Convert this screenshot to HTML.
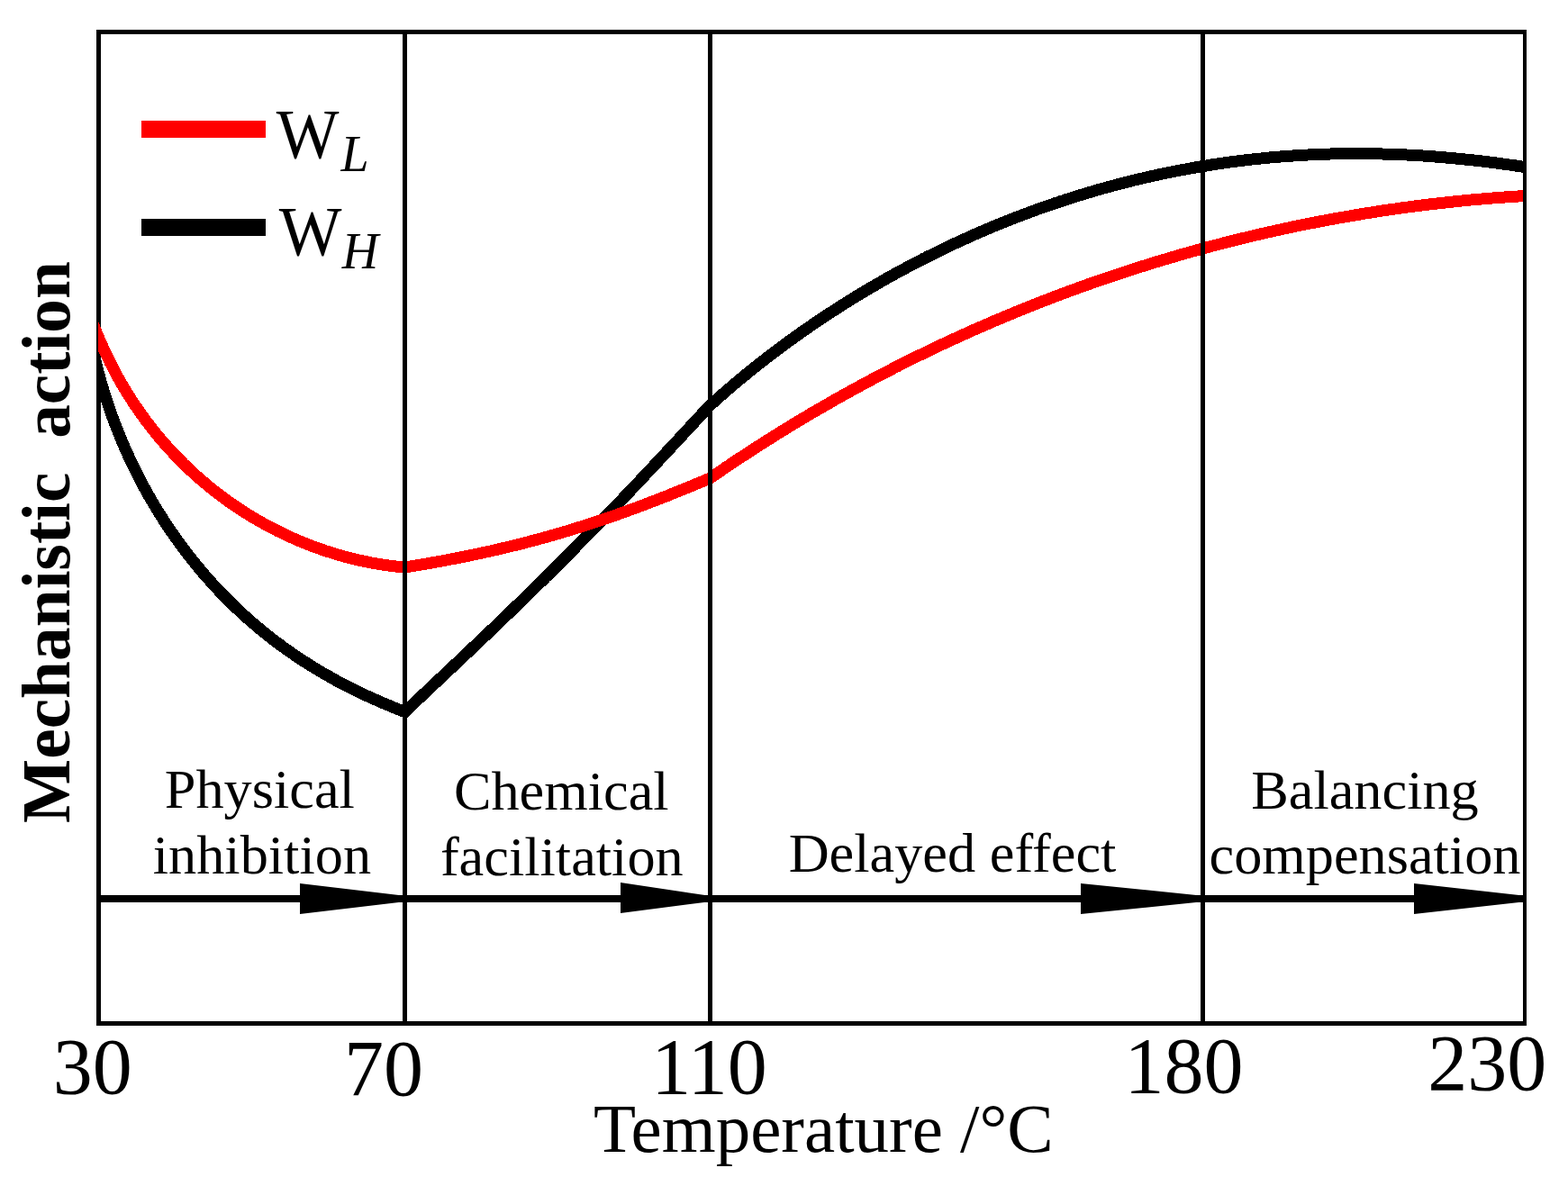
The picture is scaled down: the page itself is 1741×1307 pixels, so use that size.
<!DOCTYPE html>
<html><head><meta charset="utf-8"><title>Mechanistic action vs Temperature</title>
<style>
html,body{margin:0;padding:0;background:#fff;}
body{width:1741px;height:1307px;overflow:hidden;}
svg{display:block;}
text{font-family:"Liberation Serif","Times New Roman",serif;fill:#000;}
</style></head><body>
<svg width="1741" height="1307" viewBox="0 0 1741 1307">
<rect x="0" y="0" width="1741" height="1307" fill="#fff"/>
<defs><clipPath id="plot"><rect x="109" y="38" width="1584" height="1096"/></clipPath></defs>
<!-- left border (under curves) -->
<rect x="107" y="33" width="5" height="1106" fill="#000"/>
<g clip-path="url(#plot)" shape-rendering="crispEdges" fill="none" stroke-linejoin="miter" stroke-miterlimit="4" stroke-linecap="butt">
<path d="M102.6,388.3 L109.0,412.5 L109.8,415.4 L110.6,418.3 L111.4,421.2 L112.2,424.1 L113.0,427.0 L113.9,429.9 L114.8,432.8 L115.6,435.7 L116.5,438.5 L117.4,441.4 L118.4,444.3 L119.3,447.1 L120.3,450.0 L121.2,452.8 L122.2,455.6 L123.2,458.5 L124.2,461.3 L125.3,464.1 L126.3,467.0 L127.4,469.8 L128.4,472.6 L129.5,475.4 L130.6,478.2 L131.7,481.0 L132.9,483.7 L134.0,486.5 L135.2,489.3 L136.3,492.1 L137.5,494.8 L138.7,497.6 L139.9,500.3 L141.2,503.1 L142.4,505.8 L143.7,508.5 L144.9,511.2 L146.2,514.0 L147.5,516.7 L148.8,519.4 L150.2,522.1 L151.5,524.8 L152.9,527.4 L154.2,530.1 L155.6,532.8 L157.0,535.4 L158.4,538.1 L159.9,540.8 L161.3,543.4 L162.8,546.0 L164.2,548.6 L165.7,551.3 L167.2,553.9 L168.7,556.5 L170.3,559.1 L171.8,561.7 L173.4,564.2 L174.9,566.8 L176.5,569.4 L178.1,571.9 L179.7,574.5 L181.3,577.0 L183.0,579.5 L184.6,582.1 L186.3,584.6 L188.0,587.1 L189.7,589.6 L191.4,592.0 L193.1,594.5 L194.8,597.0 L196.6,599.4 L198.3,601.9 L200.1,604.3 L201.9,606.7 L203.7,609.2 L205.5,611.6 L207.3,614.0 L209.2,616.3 L211.0,618.7 L212.9,621.1 L214.8,623.4 L216.7,625.8 L218.6,628.1 L220.5,630.4 L222.4,632.7 L224.4,635.0 L226.3,637.3 L228.3,639.6 L230.3,641.9 L232.3,644.1 L234.3,646.4 L236.3,648.6 L238.3,650.8 L240.4,653.0 L242.4,655.2 L244.5,657.4 L246.6,659.6 L248.7,661.7 L250.8,663.9 L252.9,666.0 L255.0,668.1 L257.2,670.2 L259.4,672.3 L261.5,674.4 L263.7,676.5 L265.9,678.6 L268.1,680.6 L270.3,682.6 L272.5,684.6 L274.8,686.7 L277.0,688.6 L279.3,690.6 L281.6,692.6 L283.9,694.5 L286.2,696.5 L288.5,698.4 L290.8,700.3 L293.1,702.2 L295.5,704.1 L297.8,706.0 L300.2,707.8 L302.6,709.7 L304.9,711.5 L307.3,713.3 L309.8,715.1 L312.2,716.9 L314.6,718.7 L317.0,720.4 L319.5,722.2 L321.9,723.9 L324.4,725.6 L326.9,727.3 L329.4,729.0 L331.9,730.7 L334.4,732.3 L336.9,734.0 L339.4,735.6 L342.0,737.2 L344.5,738.8 L347.0,740.4 L349.6,742.0 L352.2,743.5 L354.8,745.1 L357.3,746.6 L359.9,748.1 L362.5,749.6 L365.2,751.1 L367.8,752.6 L370.4,754.0 L373.0,755.5 L375.7,756.9 L378.3,758.3 L381.0,759.7 L383.7,761.1 L386.3,762.5 L389.0,763.8 L391.7,765.2 L394.4,766.5 L397.1,767.8 L399.8,769.1 L402.5,770.4 L405.3,771.7 L408.0,773.0 L410.7,774.2 L413.5,775.5 L416.2,776.7 L418.9,777.9 L421.7,779.1 L424.5,780.3 L427.2,781.5 L430.0,782.7 L432.8,783.8 L435.5,785.0 L438.3,786.1 L441.1,787.2 L443.9,788.3 L446.7,789.4 L449.5,790.5 L451.7,788.4 L453.9,786.4 L456.0,784.3 L458.2,782.2 L460.4,780.2 L462.6,778.1 L464.8,776.0 L466.9,774.0 L469.1,771.9 L471.3,769.9 L473.5,767.8 L475.7,765.7 L477.9,763.7 L480.0,761.6 L482.2,759.5 L484.4,757.5 L486.6,755.4 L488.8,753.4 L491.0,751.3 L493.2,749.2 L495.3,747.2 L497.5,745.1 L499.7,743.1 L501.9,741.0 L504.1,738.9 L506.3,736.9 L508.5,734.8 L510.6,732.7 L512.8,730.7 L515.0,728.6 L517.2,726.6 L519.4,724.5 L521.5,722.4 L523.7,720.4 L525.9,718.3 L528.1,716.2 L530.3,714.2 L532.4,712.1 L534.6,710.0 L536.8,707.9 L539.0,705.9 L541.1,703.8 L543.3,701.7 L545.5,699.6 L547.7,697.6 L549.8,695.5 L552.0,693.4 L554.2,691.3 L556.3,689.3 L558.5,687.2 L560.7,685.1 L562.8,683.0 L565.0,680.9 L567.2,678.8 L569.3,676.8 L571.5,674.7 L573.6,672.6 L575.8,670.5 L577.9,668.4 L580.1,666.3 L582.2,664.2 L584.4,662.1 L586.5,660.0 L588.7,657.9 L590.8,655.8 L593.0,653.7 L595.1,651.6 L597.3,649.5 L599.4,647.4 L601.6,645.3 L603.7,643.2 L605.8,641.0 L608.0,638.9 L610.1,636.8 L612.2,634.7 L614.4,632.6 L616.5,630.5 L618.6,628.3 L620.7,626.2 L622.9,624.1 L625.0,622.0 L627.1,619.8 L629.2,617.7 L631.3,615.6 L633.5,613.5 L635.6,611.3 L637.7,609.2 L639.8,607.0 L641.9,604.9 L644.0,602.8 L646.1,600.6 L648.2,598.5 L650.3,596.3 L652.4,594.2 L654.5,592.0 L656.6,589.9 L658.7,587.7 L660.8,585.6 L662.9,583.4 L665.0,581.3 L667.1,579.1 L669.2,577.0 L671.3,574.8 L673.4,572.6 L675.4,570.5 L677.5,568.3 L679.6,566.2 L681.7,564.0 L683.8,561.8 L685.8,559.6 L687.9,557.5 L690.0,555.3 L692.1,553.1 L694.1,551.0 L696.2,548.8 L698.3,546.6 L700.4,544.4 L702.4,542.2 L704.5,540.1 L706.5,537.9 L708.6,535.7 L710.7,533.5 L712.7,531.3 L714.8,529.1 L716.9,526.9 L718.9,524.8 L721.0,522.6 L723.0,520.4 L725.1,518.2 L727.1,516.0 L729.2,513.8 L731.2,511.6 L733.3,509.4 L735.3,507.2 L737.4,505.0 L739.4,502.8 L741.5,500.6 L743.5,498.4 L745.6,496.2 L747.6,494.0 L749.7,491.8 L751.7,489.6 L753.8,487.4 L755.8,485.2 L757.9,483.0 L759.9,480.8 L761.9,478.6 L764.0,476.4 L766.0,474.2 L768.1,472.0 L770.1,469.8 L772.2,467.6 L774.2,465.4 L776.2,463.2 L778.3,461.0 L780.3,458.8 L782.4,456.6 L784.4,454.4 L786.5,452.2 L788.5,450.0 L790.7,448.0 L793.0,446.0 L795.2,444.0 L797.5,442.0 L799.7,440.0 L802.0,438.0 L804.2,436.1 L806.5,434.1 L808.8,432.1 L811.1,430.2 L813.3,428.2 L815.6,426.3 L817.9,424.4 L820.2,422.4 L822.5,420.5 L824.8,418.6 L827.2,416.7 L829.5,414.8 L831.8,412.9 L834.1,411.0 L836.5,409.2 L838.8,407.3 L841.2,405.4 L843.5,403.6 L845.9,401.7 L848.2,399.9 L850.6,398.0 L853.0,396.2 L855.4,394.4 L857.8,392.6 L860.1,390.7 L862.5,388.9 L864.9,387.1 L867.3,385.3 L869.7,383.6 L872.2,381.8 L874.6,380.0 L877.0,378.2 L879.4,376.5 L881.9,374.7 L884.3,373.0 L886.7,371.3 L889.2,369.5 L891.6,367.8 L894.1,366.1 L896.6,364.4 L899.0,362.7 L901.5,361.0 L904.0,359.3 L906.5,357.6 L908.9,355.9 L911.4,354.2 L913.9,352.6 L916.4,350.9 L918.9,349.3 L921.4,347.6 L924.0,346.0 L926.5,344.4 L929.0,342.7 L931.5,341.1 L934.0,339.5 L936.6,337.9 L939.1,336.3 L941.7,334.7 L944.2,333.1 L946.8,331.5 L949.3,330.0 L951.9,328.4 L954.4,326.9 L957.0,325.3 L959.6,323.8 L962.2,322.2 L964.7,320.7 L967.3,319.2 L969.9,317.7 L972.5,316.2 L975.1,314.6 L977.7,313.2 L980.3,311.7 L982.9,310.2 L985.5,308.7 L988.2,307.2 L990.8,305.8 L993.4,304.3 L996.0,302.9 L998.7,301.4 L1001.3,300.0 L1004.0,298.6 L1006.6,297.2 L1009.3,295.8 L1011.9,294.4 L1014.6,293.0 L1017.2,291.6 L1019.9,290.2 L1022.6,288.8 L1025.2,287.4 L1027.9,286.1 L1030.6,284.7 L1033.3,283.4 L1036.0,282.1 L1038.7,280.7 L1041.4,279.4 L1044.1,278.1 L1046.8,276.8 L1049.5,275.5 L1052.2,274.2 L1054.9,272.9 L1057.6,271.6 L1060.3,270.3 L1063.0,269.1 L1065.8,267.8 L1068.5,266.6 L1071.2,265.3 L1074.0,264.1 L1076.7,262.8 L1079.4,261.6 L1082.2,260.4 L1084.9,259.2 L1087.7,258.0 L1090.5,256.8 L1093.2,255.6 L1096.0,254.5 L1098.7,253.3 L1101.5,252.1 L1104.3,251.0 L1107.1,249.8 L1109.8,248.7 L1112.6,247.6 L1115.4,246.4 L1118.2,245.3 L1121.0,244.2 L1123.8,243.1 L1126.6,242.0 L1129.4,240.9 L1132.2,239.9 L1135.0,238.8 L1137.8,237.7 L1140.6,236.7 L1143.4,235.6 L1146.2,234.6 L1149.1,233.6 L1151.9,232.5 L1154.7,231.5 L1157.5,230.5 L1160.4,229.5 L1163.2,228.5 L1166.0,227.6 L1168.9,226.6 L1171.7,225.6 L1174.6,224.7 L1177.4,223.7 L1180.3,222.8 L1183.1,221.8 L1186.0,220.9 L1188.8,220.0 L1191.7,219.1 L1194.5,218.2 L1197.4,217.3 L1200.3,216.4 L1203.1,215.5 L1206.0,214.7 L1208.9,213.8 L1211.8,213.0 L1214.7,212.1 L1217.5,211.3 L1220.4,210.4 L1223.3,209.6 L1226.2,208.8 L1229.1,208.0 L1232.0,207.2 L1234.9,206.4 L1237.8,205.7 L1240.7,204.9 L1243.6,204.1 L1246.5,203.4 L1249.4,202.6 L1252.3,201.9 L1255.2,201.2 L1258.1,200.4 L1261.0,199.7 L1263.9,199.0 L1266.9,198.3 L1269.8,197.7 L1272.7,197.0 L1275.6,196.3 L1278.6,195.7 L1281.5,195.0 L1284.4,194.4 L1287.3,193.7 L1290.3,193.1 L1293.2,192.5 L1296.1,191.9 L1299.1,191.3 L1302.0,190.7 L1305.0,190.1 L1307.9,189.5 L1310.9,189.0 L1313.8,188.4 L1316.8,187.9 L1319.7,187.3 L1322.7,186.8 L1325.6,186.3 L1328.6,185.7 L1331.5,185.2 L1334.5,184.7 L1337.4,184.3 L1340.4,183.8 L1343.4,183.3 L1346.3,182.8 L1349.3,182.4 L1352.2,181.9 L1355.2,181.5 L1358.2,181.1 L1361.2,180.7 L1364.1,180.2 L1367.1,179.8 L1370.1,179.4 L1373.0,179.1 L1376.0,178.7 L1379.0,178.3 L1382.0,178.0 L1385.0,177.6 L1387.9,177.3 L1390.9,176.9 L1393.9,176.6 L1396.9,176.3 L1399.9,176.0 L1402.8,175.7 L1405.8,175.4 L1408.8,175.1 L1411.8,174.8 L1414.8,174.6 L1417.8,174.3 L1420.8,174.1 L1423.8,173.8 L1426.8,173.6 L1429.7,173.4 L1432.7,173.2 L1435.7,173.0 L1438.7,172.8 L1441.7,172.6 L1444.7,172.4 L1447.7,172.2 L1450.7,172.1 L1453.7,171.9 L1456.7,171.8 L1459.7,171.7 L1462.7,171.5 L1465.7,171.4 L1468.7,171.3 L1471.7,171.2 L1474.7,171.1 L1477.7,171.0 L1480.7,170.9 L1483.7,170.9 L1486.7,170.8 L1489.7,170.8 L1492.7,170.7 L1495.7,170.7 L1498.7,170.7 L1501.7,170.6 L1504.7,170.6 L1507.7,170.6 L1510.7,170.6 L1513.7,170.7 L1516.7,170.7 L1519.7,170.7 L1522.7,170.7 L1525.7,170.8 L1528.7,170.9 L1531.7,170.9 L1534.7,171.0 L1537.7,171.1 L1540.8,171.2 L1543.8,171.3 L1546.8,171.4 L1549.8,171.5 L1552.8,171.6 L1555.8,171.7 L1558.8,171.8 L1561.8,172.0 L1564.8,172.1 L1567.8,172.3 L1570.8,172.5 L1573.8,172.6 L1576.8,172.8 L1579.7,173.0 L1582.7,173.2 L1585.7,173.4 L1588.7,173.6 L1591.7,173.8 L1594.7,174.1 L1597.7,174.3 L1600.7,174.6 L1603.7,174.8 L1606.7,175.1 L1609.7,175.3 L1612.7,175.6 L1615.7,175.9 L1618.7,176.2 L1621.6,176.5 L1624.6,176.8 L1627.6,177.1 L1630.6,177.4 L1633.6,177.7 L1636.6,178.0 L1639.5,178.4 L1642.5,178.7 L1645.5,179.0 L1648.5,179.4 L1651.5,179.8 L1654.4,180.1 L1657.4,180.5 L1660.4,180.9 L1663.4,181.3 L1666.3,181.7 L1669.3,182.1 L1672.3,182.5 L1675.2,182.9 L1678.2,183.3 L1681.2,183.7 L1684.1,184.2 L1687.1,184.6 L1690.0,185.1 L1693.0,185.5 L1698.9,186.4" stroke="#000" stroke-width="13"/>
<path d="M99.3,350.5 L109.0,373.6 L110.2,376.4 L111.4,379.1 L112.6,381.9 L113.8,384.6 L115.0,387.4 L116.3,390.1 L117.6,392.8 L118.9,395.5 L120.2,398.2 L121.5,400.9 L122.8,403.6 L124.2,406.3 L125.6,409.0 L127.0,411.6 L128.4,414.3 L129.9,416.9 L131.3,419.6 L132.8,422.2 L134.3,424.8 L135.8,427.4 L137.3,430.0 L138.9,432.6 L140.4,435.1 L142.0,437.7 L143.6,440.2 L145.2,442.8 L146.9,445.3 L148.5,447.8 L150.2,450.3 L151.9,452.8 L153.6,455.3 L155.3,457.7 L157.0,460.2 L158.8,462.6 L160.6,465.1 L162.3,467.5 L164.2,469.9 L166.0,472.3 L167.8,474.6 L169.7,477.0 L171.6,479.3 L173.4,481.7 L175.4,484.0 L177.3,486.3 L179.2,488.6 L181.2,490.9 L183.2,493.1 L185.2,495.4 L187.2,497.6 L189.2,499.8 L191.2,502.0 L193.3,504.2 L195.4,506.4 L197.4,508.6 L199.6,510.7 L201.7,512.8 L203.8,515.0 L206.0,517.1 L208.1,519.1 L210.3,521.2 L212.5,523.3 L214.7,525.3 L216.9,527.3 L219.2,529.3 L221.4,531.3 L223.7,533.3 L226.0,535.2 L228.3,537.2 L230.6,539.1 L232.9,541.0 L235.3,542.9 L237.6,544.7 L240.0,546.6 L242.4,548.4 L244.8,550.3 L247.2,552.1 L249.6,553.8 L252.0,555.6 L254.5,557.4 L256.9,559.1 L259.4,560.8 L261.9,562.5 L264.4,564.2 L266.9,565.8 L269.4,567.5 L272.0,569.1 L274.5,570.7 L277.1,572.3 L279.6,573.8 L282.2,575.4 L284.8,576.9 L287.4,578.4 L290.0,579.9 L292.7,581.4 L295.3,582.8 L297.9,584.3 L300.6,585.7 L303.3,587.1 L306.0,588.4 L308.6,589.8 L311.3,591.1 L314.0,592.4 L316.8,593.7 L319.5,595.0 L322.2,596.3 L325.0,597.5 L327.7,598.7 L330.5,599.9 L333.3,601.1 L336.0,602.2 L338.8,603.4 L341.6,604.5 L344.4,605.6 L347.2,606.6 L350.1,607.7 L352.9,608.7 L355.7,609.7 L358.6,610.7 L361.4,611.7 L364.3,612.6 L367.1,613.5 L370.0,614.4 L372.9,615.3 L375.8,616.1 L378.6,617.0 L381.5,617.8 L384.4,618.6 L387.3,619.3 L390.3,620.1 L393.2,620.8 L396.1,621.5 L399.0,622.2 L402.0,622.8 L404.9,623.4 L407.9,624.0 L410.8,624.6 L413.8,625.2 L416.7,625.7 L419.7,626.2 L422.6,626.7 L425.6,627.2 L428.6,627.6 L431.6,628.0 L434.5,628.4 L437.5,628.8 L440.5,629.1 L443.5,629.4 L446.5,629.7 L449.5,630.0 L452.5,629.5 L455.4,629.0 L458.4,628.5 L461.3,628.0 L464.3,627.6 L467.3,627.0 L470.2,626.5 L473.2,626.0 L476.1,625.5 L479.1,625.0 L482.0,624.5 L485.0,623.9 L488.0,623.4 L490.9,622.9 L493.9,622.3 L496.8,621.8 L499.8,621.2 L502.7,620.6 L505.7,620.1 L508.6,619.5 L511.6,618.9 L514.5,618.3 L517.4,617.7 L520.4,617.1 L523.3,616.5 L526.3,615.9 L529.2,615.3 L532.1,614.7 L535.1,614.0 L538.0,613.4 L540.9,612.7 L543.9,612.1 L546.8,611.4 L549.7,610.8 L552.7,610.1 L555.6,609.4 L558.5,608.7 L561.4,608.0 L564.3,607.3 L567.3,606.6 L570.2,605.9 L573.1,605.2 L576.0,604.5 L578.9,603.7 L581.8,603.0 L584.7,602.2 L587.6,601.5 L590.5,600.7 L593.4,599.9 L596.3,599.2 L599.2,598.4 L602.1,597.6 L605.0,596.8 L607.9,596.0 L610.8,595.2 L613.7,594.3 L616.6,593.5 L619.4,592.7 L622.3,591.8 L625.2,591.0 L628.1,590.1 L630.9,589.3 L633.8,588.4 L636.7,587.5 L639.5,586.6 L642.4,585.7 L645.3,584.8 L648.1,583.9 L651.0,583.0 L653.8,582.1 L656.7,581.2 L659.6,580.2 L662.4,579.3 L665.2,578.3 L668.1,577.4 L670.9,576.4 L673.8,575.4 L676.6,574.5 L679.4,573.5 L682.3,572.5 L685.1,571.5 L687.9,570.5 L690.8,569.5 L693.6,568.5 L696.4,567.4 L699.2,566.4 L702.1,565.4 L704.9,564.3 L707.7,563.3 L710.5,562.3 L713.3,561.2 L716.1,560.1 L718.9,559.1 L721.7,558.0 L724.5,556.9 L727.3,555.8 L730.1,554.8 L732.9,553.7 L735.7,552.6 L738.5,551.5 L741.3,550.4 L744.1,549.3 L746.9,548.1 L749.7,547.0 L752.5,545.9 L755.2,544.8 L758.0,543.6 L760.8,542.5 L763.6,541.4 L766.4,540.2 L769.1,539.1 L771.9,537.9 L774.7,536.8 L777.4,535.6 L780.2,534.5 L783.0,533.3 L785.7,532.2 L788.5,531.0 L791.0,529.3 L793.4,527.6 L795.9,525.9 L798.4,524.2 L800.8,522.5 L803.3,520.8 L805.8,519.1 L808.3,517.5 L810.8,515.8 L813.3,514.1 L815.8,512.4 L818.3,510.8 L820.8,509.1 L823.3,507.5 L825.8,505.8 L828.3,504.2 L830.8,502.5 L833.3,500.9 L835.8,499.3 L838.3,497.6 L840.9,496.0 L843.4,494.4 L845.9,492.8 L848.4,491.2 L851.0,489.6 L853.5,488.0 L856.0,486.4 L858.6,484.8 L861.1,483.2 L863.7,481.6 L866.2,480.0 L868.8,478.4 L871.3,476.9 L873.9,475.3 L876.5,473.7 L879.0,472.2 L881.6,470.6 L884.2,469.1 L886.7,467.5 L889.3,466.0 L891.9,464.4 L894.5,462.9 L897.0,461.4 L899.6,459.8 L902.2,458.3 L904.8,456.8 L907.4,455.3 L910.0,453.8 L912.6,452.3 L915.2,450.8 L917.8,449.3 L920.4,447.8 L923.0,446.3 L925.6,444.8 L928.2,443.3 L930.8,441.9 L933.4,440.4 L936.1,438.9 L938.7,437.5 L941.3,436.0 L943.9,434.6 L946.6,433.1 L949.2,431.7 L951.8,430.2 L954.5,428.8 L957.1,427.4 L959.8,425.9 L962.4,424.5 L965.0,423.1 L967.7,421.7 L970.3,420.3 L973.0,418.9 L975.7,417.5 L978.3,416.1 L981.0,414.7 L983.6,413.3 L986.3,411.9 L989.0,410.6 L991.6,409.2 L994.3,407.8 L997.0,406.5 L999.7,405.1 L1002.4,403.8 L1005.0,402.4 L1007.7,401.1 L1010.4,399.7 L1013.1,398.4 L1015.8,397.1 L1018.5,395.7 L1021.2,394.4 L1023.9,393.1 L1026.6,391.8 L1029.3,390.5 L1032.0,389.2 L1034.7,387.9 L1037.4,386.6 L1040.1,385.3 L1042.8,384.0 L1045.5,382.7 L1048.3,381.5 L1051.0,380.2 L1053.7,378.9 L1056.4,377.7 L1059.1,376.4 L1061.9,375.1 L1064.6,373.9 L1067.3,372.6 L1070.1,371.4 L1072.8,370.2 L1075.6,368.9 L1078.3,367.7 L1081.0,366.5 L1083.8,365.3 L1086.5,364.1 L1089.3,362.9 L1092.0,361.7 L1094.8,360.5 L1097.5,359.3 L1100.3,358.1 L1103.1,356.9 L1105.8,355.7 L1108.6,354.6 L1111.3,353.4 L1114.1,352.2 L1116.9,351.1 L1119.6,349.9 L1122.4,348.8 L1125.2,347.6 L1128.0,346.5 L1130.8,345.3 L1133.5,344.2 L1136.3,343.1 L1139.1,341.9 L1141.9,340.8 L1144.7,339.7 L1147.5,338.6 L1150.3,337.5 L1153.1,336.4 L1155.8,335.3 L1158.6,334.2 L1161.4,333.1 L1164.2,332.1 L1167.1,331.0 L1169.9,329.9 L1172.7,328.8 L1175.5,327.8 L1178.3,326.7 L1181.1,325.7 L1183.9,324.6 L1186.7,323.6 L1189.5,322.5 L1192.4,321.5 L1195.2,320.5 L1198.0,319.5 L1200.8,318.4 L1203.7,317.4 L1206.5,316.4 L1209.3,315.4 L1212.1,314.4 L1215.0,313.4 L1217.8,312.4 L1220.6,311.5 L1223.5,310.5 L1226.3,309.5 L1229.2,308.5 L1232.0,307.6 L1234.8,306.6 L1237.7,305.7 L1240.5,304.7 L1243.4,303.8 L1246.2,302.8 L1249.1,301.9 L1251.9,300.9 L1254.8,300.0 L1257.7,299.1 L1260.5,298.2 L1263.4,297.3 L1266.2,296.4 L1269.1,295.5 L1272.0,294.6 L1274.8,293.7 L1277.7,292.8 L1280.6,291.9 L1283.4,291.0 L1286.3,290.1 L1289.2,289.3 L1292.1,288.4 L1294.9,287.6 L1297.8,286.7 L1300.7,285.9 L1303.6,285.0 L1306.5,284.2 L1309.3,283.3 L1312.2,282.5 L1315.1,281.7 L1318.0,280.9 L1320.9,280.1 L1323.8,279.2 L1326.7,278.4 L1329.6,277.6 L1332.5,276.8 L1335.3,276.1 L1338.2,275.3 L1341.1,274.5 L1344.0,273.7 L1346.9,272.9 L1349.8,272.2 L1352.7,271.4 L1355.7,270.7 L1358.6,269.9 L1361.5,269.2 L1364.4,268.4 L1367.3,267.7 L1370.2,267.0 L1373.1,266.2 L1376.0,265.5 L1378.9,264.8 L1381.9,264.1 L1384.8,263.4 L1387.7,262.7 L1390.6,262.0 L1393.5,261.3 L1396.4,260.6 L1399.4,259.9 L1402.3,259.3 L1405.2,258.6 L1408.1,257.9 L1411.1,257.3 L1414.0,256.6 L1416.9,255.9 L1419.9,255.3 L1422.8,254.7 L1425.7,254.0 L1428.7,253.4 L1431.6,252.8 L1434.5,252.1 L1437.5,251.5 L1440.4,250.9 L1443.3,250.3 L1446.3,249.7 L1449.2,249.1 L1452.2,248.5 L1455.1,247.9 L1458.1,247.4 L1461.0,246.8 L1463.9,246.2 L1466.9,245.6 L1469.8,245.1 L1472.8,244.5 L1475.7,244.0 L1478.7,243.4 L1481.6,242.9 L1484.6,242.4 L1487.5,241.8 L1490.5,241.3 L1493.5,240.8 L1496.4,240.3 L1499.4,239.8 L1502.3,239.3 L1505.3,238.8 L1508.2,238.3 L1511.2,237.8 L1514.2,237.3 L1517.1,236.8 L1520.1,236.3 L1523.0,235.9 L1526.0,235.4 L1529.0,234.9 L1531.9,234.5 L1534.9,234.0 L1537.9,233.6 L1540.8,233.1 L1543.8,232.7 L1546.8,232.3 L1549.8,231.9 L1552.7,231.4 L1555.7,231.0 L1558.7,230.6 L1561.6,230.2 L1564.6,229.8 L1567.6,229.4 L1570.6,229.0 L1573.5,228.6 L1576.5,228.3 L1579.5,227.9 L1582.5,227.5 L1585.4,227.2 L1588.4,226.8 L1591.4,226.5 L1594.4,226.1 L1597.4,225.8 L1600.3,225.4 L1603.3,225.1 L1606.3,224.8 L1609.3,224.4 L1612.3,224.1 L1615.3,223.8 L1618.2,223.5 L1621.2,223.2 L1624.2,222.9 L1627.2,222.6 L1630.2,222.3 L1633.2,222.0 L1636.2,221.8 L1639.1,221.5 L1642.1,221.2 L1645.1,221.0 L1648.1,220.7 L1651.1,220.5 L1654.1,220.2 L1657.1,220.0 L1660.1,219.7 L1663.1,219.5 L1666.1,219.3 L1669.1,219.1 L1672.0,218.9 L1675.0,218.6 L1678.0,218.4 L1681.0,218.2 L1684.0,218.1 L1687.0,217.9 L1690.0,217.7 L1693.0,217.5 L1699.0,217.1" stroke="#f00" stroke-width="13"/>
</g>
<!-- frame and dividers -->
<g fill="#000">
<rect x="1691" y="33" width="4" height="1106"/>
<rect x="107" y="33" width="1588" height="5"/>
<rect x="107" y="1134" width="1588" height="5"/>
<rect x="447" y="33" width="5" height="1106"/>
<rect x="786" y="33" width="5" height="1106"/>
<rect x="1333" y="33" width="5" height="1106"/>
<!-- stage arrows -->
<rect x="109" y="994" width="1584" height="8"/>
<polygon points="333,981 333,1015 447,1001.5 447,994.5"/>
<polygon points="689,980 689,1014 786,1001.5 786,994.5"/>
<polygon points="1200,981 1200,1015 1333,1001.5 1333,994.5"/>
<polygon points="1570,981 1570,1015 1691,1001.5 1691,994.5"/>
</g>
<!-- legend -->
<rect x="157" y="134" width="138" height="19" fill="#f00"/>
<rect x="157" y="243" width="138" height="19" fill="#000"/>
<text transform="translate(306.8,175) scale(0.935,1)" font-size="79">W</text>
<text x="378.4" y="190" font-size="56" font-style="italic">L</text>
<text transform="translate(309.7,283) scale(0.935,1)" font-size="79">W</text>
<text x="379.8" y="298" font-size="56" font-style="italic">H</text>
<!-- stage labels -->
<g font-size="62.3" text-anchor="middle">
<text x="288.3" y="897">Physical</text>
<text x="290.9" y="970">inhibition</text>
<text x="623.3" y="899">Chemical</text>
<text x="623.8" y="971.6">facilitation</text>
<text x="1057.5" y="968">Delayed effect</text>
<text x="1515.5" y="898">Balancing</text>
<text x="1515.5" y="970">compensation</text>
</g>
<!-- x tick labels -->
<g font-size="88" text-anchor="middle">
<text x="102.7" y="1214">30</text>
<text x="426" y="1216">70</text>
<text x="787.5" y="1214">110</text>
<text x="1314.5" y="1213">180</text>
<text x="1651.3" y="1210">230</text>
</g>
<text x="914.3" y="1279" font-size="77" text-anchor="middle">Temperature /°C</text>
<text transform="translate(77,602) rotate(-90)" font-size="75.4" font-weight="bold" text-anchor="middle">Mechanistic&#160; action</text>
</svg>
</body></html>
